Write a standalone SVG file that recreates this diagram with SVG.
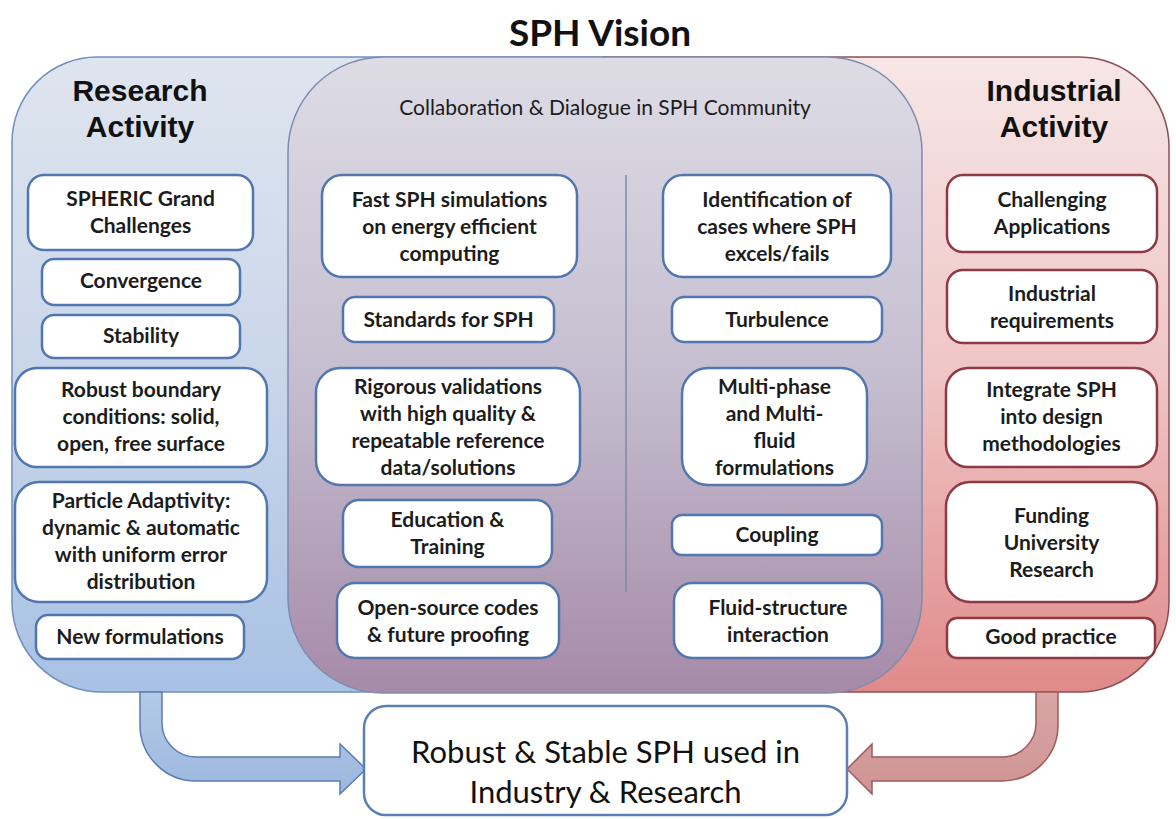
<svg xmlns="http://www.w3.org/2000/svg" width="1176" height="819" viewBox="0 0 1176 819">
<defs>
<linearGradient id="gBlue" gradientUnits="userSpaceOnUse" x1="0" y1="57" x2="0" y2="692">
<stop offset="0" stop-color="#dfe5ef"/><stop offset="0.5" stop-color="#c9d6ea"/><stop offset="1" stop-color="#a8c1e4"/>
</linearGradient>
<linearGradient id="gMid" gradientUnits="userSpaceOnUse" x1="0" y1="57" x2="0" y2="693">
<stop offset="0" stop-color="#dddce5"/><stop offset="0.5" stop-color="#c5bed0"/><stop offset="1" stop-color="#a68aa8"/>
</linearGradient>
<linearGradient id="gRed" gradientUnits="userSpaceOnUse" x1="0" y1="57" x2="0" y2="692">
<stop offset="0" stop-color="#f7e6e6"/><stop offset="0.5" stop-color="#efc5c5"/><stop offset="1" stop-color="#e08a8a"/>
</linearGradient>
<linearGradient id="gArrB" x1="0" y1="0" x2="0" y2="1">
<stop offset="0" stop-color="#b4c9e7"/><stop offset="1" stop-color="#9db7de"/>
</linearGradient>
<linearGradient id="gArrR" x1="0" y1="0" x2="0" y2="1">
<stop offset="0" stop-color="#d9a5a5"/><stop offset="1" stop-color="#cf9494"/>
</linearGradient>
</defs>
<style>
.bx{fill:#ffffff;stroke:#5276ae;stroke-width:2.5}
.rbx{fill:#ffffff;stroke:#8e3a45;stroke-width:2.5}
.t{font-family:Lato,"Open Sans",sans-serif;font-weight:bold;font-size:21px;fill:#1c1c1c;text-anchor:middle}
.h{font-family:"Liberation Sans",Arial,sans-serif;font-weight:bold;font-size:30px;fill:#111;text-anchor:middle}
</style>
<text x="600" y="46" style="font-family:Lato,sans-serif;font-weight:bold;font-size:37px;fill:#111;text-anchor:middle">SPH Vision</text>

<g id="panel-research">
<path d="M97 57 H606 V692 H102 A90 90 0 0 1 12 602 V142 A85 85 0 0 1 97 57 Z" fill="url(#gBlue)" stroke="#6e8fbf" stroke-width="1.5"/>
</g>
<g id="panel-industrial">
<path d="M604 57 H1079 A90 90 0 0 1 1169 147 V602 A90 90 0 0 1 1079 692 H604 Z" fill="url(#gRed)" stroke="#8a5058" stroke-width="1.5"/>
</g>
<g id="panel-collab">
<rect x="288" y="57" width="634" height="636" rx="95" ry="95" fill="url(#gMid)" stroke="#7e8cae" stroke-width="1.5"/>
<text x="605" y="115" style="font-family:Lato,sans-serif;font-size:21px;fill:#1c1c1c;text-anchor:middle">Collaboration &amp; Dialogue in SPH Community</text>
<line x1="626" y1="175" x2="626" y2="592" stroke="#7d8aad" stroke-width="1.5"/>
</g>

<text class="h" x="140" y="101">Research</text>
<text class="h" x="140" y="137">Activity</text>
<text class="h" x="1054" y="101">Industrial</text>
<text class="h" x="1054" y="137">Activity</text>

<g id="connectors">
<path d="M140 692 V725 A56 56 0 0 0 196 781 H340 V794 L366 769 L340 744 V757 H196 A34 34 0 0 1 162 723 V692 Z" fill="url(#gArrB)" stroke="#5a7db3" stroke-width="1.5"/>
<path d="M1058 692 V725 A56 56 0 0 1 1002 781 H872 V794 L847 769 L872 744 V757 H1002 A34 34 0 0 0 1036 723 V692 Z" fill="url(#gArrR)" stroke="#a05a5a" stroke-width="1.5"/>
</g>

<g id="n1"><rect class="bx" x="28" y="175" width="225" height="75" rx="16"/><text class="t" x="140.5" y="206">SPHERIC Grand</text><text class="t" x="140.5" y="233">Challenges</text></g>
<g id="n2"><rect class="bx" x="42" y="259" width="198" height="46" rx="12"/><text class="t" x="141" y="288">Convergence</text></g>
<g id="n3"><rect class="bx" x="42" y="315" width="198" height="43" rx="12"/><text class="t" x="141" y="343">Stability</text></g>
<g id="n4"><rect class="bx" x="15" y="368" width="252" height="99" rx="22"/><text class="t" x="141" y="397">Robust boundary</text><text class="t" x="141" y="424">conditions: solid,</text><text class="t" x="141" y="451">open, free surface</text></g>
<g id="n5"><rect class="bx" x="15" y="482" width="252" height="120" rx="24"/><text class="t" x="141" y="508">Particle Adaptivity:</text><text class="t" x="141" y="535">dynamic &amp; automatic</text><text class="t" x="141" y="562">with uniform error</text><text class="t" x="141" y="589">distribution</text></g>
<g id="n6"><rect class="bx" x="36" y="615" width="208" height="44" rx="12"/><text class="t" x="140" y="644">New formulations</text></g>

<g id="n7"><rect class="bx" x="322" y="175" width="255" height="102" rx="20"/><text class="t" x="449.5" y="207">Fast SPH simulations</text><text class="t" x="449.5" y="234">on energy efficient</text><text class="t" x="449.5" y="261">computing</text></g>
<g id="n8"><rect class="bx" x="343" y="297" width="211" height="45" rx="12"/><text class="t" x="448.5" y="327">Standards for SPH</text></g>
<g id="n9"><rect class="bx" x="316" y="368" width="264" height="117" rx="24"/><text class="t" x="448" y="394">Rigorous validations</text><text class="t" x="448" y="421">with high quality &amp;</text><text class="t" x="448" y="448">repeatable reference</text><text class="t" x="448" y="475">data/solutions</text></g>
<g id="n10"><rect class="bx" x="343" y="500" width="209" height="67" rx="16"/><text class="t" x="447.5" y="527">Education &amp;</text><text class="t" x="447.5" y="554">Training</text></g>
<g id="n11"><rect class="bx" x="337" y="583" width="222" height="75" rx="18"/><text class="t" x="448" y="615">Open-source codes</text><text class="t" x="448" y="642">&amp; future proofing</text></g>

<g id="n12"><rect class="bx" x="663" y="175" width="228" height="102" rx="20"/><text class="t" x="777" y="207">Identification of</text><text class="t" x="777" y="234">cases where SPH</text><text class="t" x="777" y="261">excels/fails</text></g>
<g id="n13"><rect class="bx" x="672" y="297" width="210" height="45" rx="12"/><text class="t" x="777" y="327">Turbulence</text></g>
<g id="n14"><rect class="bx" x="682" y="368" width="185" height="117" rx="26"/><text class="t" x="774.5" y="394">Multi-phase</text><text class="t" x="774.5" y="421">and Multi-</text><text class="t" x="774.5" y="448">fluid</text><text class="t" x="774.5" y="475">formulations</text></g>
<g id="n15"><rect class="bx" x="672" y="515" width="210" height="40" rx="10"/><text class="t" x="777" y="542">Coupling</text></g>
<g id="n16"><rect class="bx" x="674" y="583" width="208" height="75" rx="18"/><text class="t" x="778" y="615">Fluid-structure</text><text class="t" x="778" y="642">interaction</text></g>

<g id="n17"><rect class="rbx" x="947" y="175" width="210" height="77" rx="16"/><text class="t" x="1052" y="207">Challenging</text><text class="t" x="1052" y="234">Applications</text></g>
<g id="n18"><rect class="rbx" x="947" y="270" width="210" height="73" rx="16"/><text class="t" x="1052" y="301">Industrial</text><text class="t" x="1052" y="328">requirements</text></g>
<g id="n19"><rect class="rbx" x="946" y="368" width="211" height="99" rx="22"/><text class="t" x="1051.5" y="397">Integrate SPH</text><text class="t" x="1051.5" y="424">into design</text><text class="t" x="1051.5" y="451">methodologies</text></g>
<g id="n20"><rect class="rbx" x="946" y="482" width="211" height="120" rx="24"/><text class="t" x="1051.5" y="523">Funding</text><text class="t" x="1051.5" y="550">University</text><text class="t" x="1051.5" y="577">Research</text></g>
<g id="n21"><rect class="rbx" x="947" y="618" width="208" height="40" rx="10"/><text class="t" x="1051" y="644">Good practice</text></g>

<g id="n22"><rect x="364" y="706" width="483" height="109" rx="22" fill="#ffffff" stroke="#5b7fb5" stroke-width="2.5"/><text x="605.5" y="763" style="font-family:Lato,sans-serif;font-size:31px;fill:#111;text-anchor:middle">Robust &amp; Stable SPH used in</text><text x="605.5" y="803" style="font-family:Lato,sans-serif;font-size:31px;fill:#111;text-anchor:middle">Industry &amp; Research</text></g>
</svg>
